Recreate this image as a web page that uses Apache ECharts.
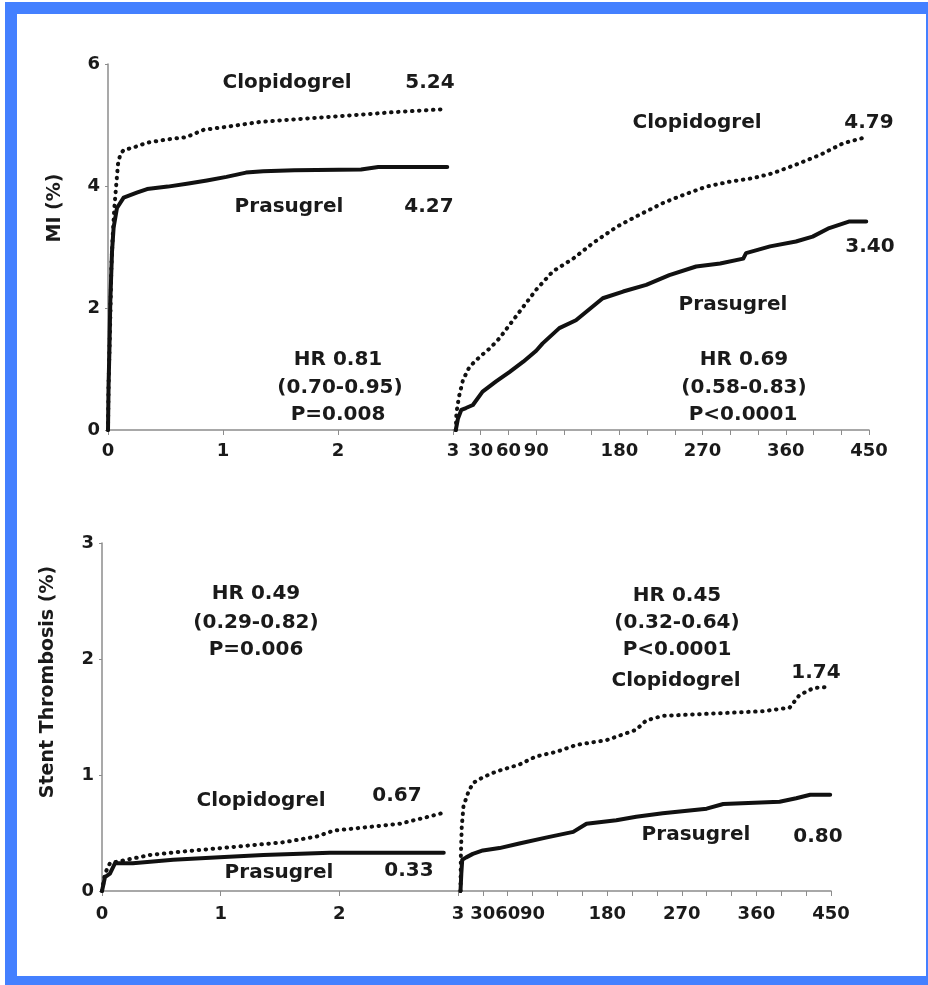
<!DOCTYPE html>
<html>
<head>
<meta charset="utf-8">
<script src="https://cdn.jsdelivr.net/npm/echarts@6/dist/echarts.min.js"></script>
<style>
  html, body { margin: 0; padding: 0; background: #fff; }
  .frame { position: absolute; left: 5px; top: 2px; width: 923px; height: 983px; background: #4480ff; }
  .inner { position: absolute; left: 17px; top: 14px; width: 909px; height: 962px; background: #fff; }
  #chart { position: absolute; left: 0; top: 0; width: 928px; height: 985px; }
</style>
</head>
<body>
<div class="frame"></div>
<div class="inner"></div>
<div id="chart"></div>
<script>
  // MI, days 0-3 : [day, %]
  const miEarlyClopidogrel = [[0, 0], [0.005, 0.74], [0.02, 1.84], [0.029, 2.66], [0.04, 3.15], [0.055, 3.64], [0.072, 4.03], [0.087, 4.36], [0.107, 4.52], [0.136, 4.59], [0.22, 4.63], [0.34, 4.71], [0.5, 4.76], [0.68, 4.8], [0.83, 4.92], [1.03, 4.97], [1.32, 5.05], [1.6, 5.09], [1.9, 5.13], [2.2, 5.17], [2.48, 5.21], [2.75, 5.24], [2.93, 5.26]]
  const miEarlyPrasugrel = [[0, 0], [0.005, 0.74], [0.012, 1.29], [0.02, 2.11], [0.035, 2.93], [0.049, 3.32], [0.078, 3.64], [0.136, 3.81], [0.25, 3.89], [0.34, 3.95], [0.52, 3.99], [0.7, 4.04], [0.86, 4.09], [1.03, 4.15], [1.2, 4.22], [1.35, 4.24], [1.62, 4.26], [2.2, 4.27], [2.35, 4.31], [2.95, 4.31]]
  // MI, days 3-450
  const miLateClopidogrel = [[3, 0], [3.7, 0.28], [6.5, 0.55], [10.8, 0.82], [18, 1.04], [29, 1.2], [40, 1.34], [50, 1.5], [68, 1.86], [90, 2.3], [108, 2.6], [130, 2.81], [151, 3.06], [177, 3.33], [198, 3.5], [227, 3.72], [245, 3.83], [274, 3.99], [299, 4.07], [325, 4.13], [346, 4.21], [371, 4.35], [397, 4.51], [422, 4.7], [444, 4.79]]
  const miLatePrasugrel = [[3, 0], [5.4, 0.19], [9, 0.33], [14, 0.36], [21.5, 0.41], [32, 0.63], [47, 0.8], [61, 0.95], [76, 1.12], [90, 1.3], [97, 1.42], [115, 1.67], [133, 1.8], [162, 2.16], [184, 2.27], [209, 2.38], [234, 2.54], [263, 2.68], [289, 2.73], [314, 2.81], [317, 2.9], [343, 3.01], [371, 3.09], [389, 3.17], [407, 3.31], [429, 3.42], [447, 3.42]]
  // Stent thrombosis, days 0-3
  const stEarlyClopidogrel = [[0, 0], [0.025, 0.15], [0.067, 0.24], [0.21, 0.27], [0.4, 0.31], [0.68, 0.34], [1.11, 0.38], [1.53, 0.42], [1.81, 0.47], [1.95, 0.52], [2.23, 0.55], [2.51, 0.58], [2.71, 0.63], [2.86, 0.67]]
  const stEarlyPrasugrel = [[0, 0], [0.025, 0.12], [0.067, 0.15], [0.11, 0.24], [0.26, 0.24], [0.6, 0.27], [0.99, 0.29], [1.36, 0.31], [1.92, 0.33], [2.88, 0.33]]
  // Stent thrombosis, days 3-450
  const stLateClopidogrel = [[3, 0], [3.5, 0.32], [4.5, 0.55], [6.6, 0.73], [11.8, 0.84], [17.9, 0.93], [30, 0.98], [46, 1.03], [74, 1.09], [94, 1.16], [119, 1.2], [143, 1.26], [179, 1.3], [215, 1.39], [227, 1.47], [247, 1.51], [308, 1.53], [368, 1.55], [400, 1.58], [412, 1.69], [429, 1.75], [449, 1.76]]
  const stLatePrasugrel = [[3, 0], [4, 0.15], [5.1, 0.27], [9.9, 0.29], [17.9, 0.32], [30, 0.35], [50, 0.37], [74, 0.41], [106, 0.46], [139, 0.51], [155, 0.58], [191, 0.61], [215, 0.64], [247, 0.67], [300, 0.71], [320, 0.75], [388, 0.77], [408, 0.8], [425, 0.83], [449, 0.83]]

  const lateTickLabels = [3, 30, 60, 90, 180, 270, 360, 450]

  // annotations: [text, x, y]
  const notes = [
    ['Clopidogrel', 287, 83], ['5.24', 430, 83], ['Prasugrel', 289, 207], ['4.27', 429, 207],
    ['HR 0.81', 338, 360], ['(0.70-0.95)', 340, 388], ['P=0.008', 338, 415],
    ['Clopidogrel', 697, 123], ['4.79', 869, 123], ['3.40', 870, 247], ['Prasugrel', 733, 305],
    ['HR 0.69', 744, 360], ['(0.58-0.83)', 744, 388], ['P<0.0001', 743, 415],
    ['HR 0.49', 256, 594], ['(0.29-0.82)', 256, 623], ['P=0.006', 256, 650],
    ['Clopidogrel', 261, 801], ['0.67', 397, 796], ['Prasugrel', 279, 873], ['0.33', 409, 871],
    ['HR 0.45', 677, 596], ['(0.32-0.64)', 677, 623], ['P<0.0001', 677, 650],
    ['Clopidogrel', 676, 681], ['1.74', 816, 673], ['Prasugrel', 696, 835], ['0.80', 818, 837]
  ]

  const FONT = '"DejaVu Sans", sans-serif'
  const axisGray = '#8c8c8c'
  const labelStyle = { color: '#1a1a1a', fontFamily: FONT, fontWeight: 'bold', fontSize: 18 }

  function xAxisEarly(gridIndex, margin) {
    return {
      gridIndex: gridIndex, type: 'value', min: 0, max: 3, interval: 1,
      axisLine: { lineStyle: { color: axisGray, width: 1.5 } },
      axisTick: { length: 5, lineStyle: { color: axisGray } },
      axisLabel: Object.assign({ margin: margin }, labelStyle),
      splitLine: { show: false }
    }
  }
  function xAxisLate(gridIndex, margin) {
    return {
      gridIndex: gridIndex, type: 'value', min: 0, max: 450, interval: 30,
      axisLine: { lineStyle: { color: axisGray, width: 1.5 } },
      axisTick: { length: 5, lineStyle: { color: axisGray } },
      axisLabel: Object.assign({
        margin: margin,
        customValues: lateTickLabels.slice(1)
      }, labelStyle),
      splitLine: { show: false }
    }
  }
  function yAxisShown(gridIndex, max, interval) {
    return {
      gridIndex: gridIndex, type: 'value', min: 0, max: max, interval: interval,
      axisLine: { show: true, lineStyle: { color: axisGray, width: 1.5 } },
      axisTick: { show: true, length: 3, lineStyle: { color: axisGray } },
      axisLabel: Object.assign({ margin: 8 }, labelStyle),
      splitLine: { show: false }
    }
  }
  function yAxisHidden(gridIndex, max) {
    return { gridIndex: gridIndex, type: 'value', min: 0, max: max, show: false, splitLine: { show: false } }
  }

  function curve(data, idx, dotted) {
    return {
      type: 'line', xAxisIndex: idx, yAxisIndex: idx, data: data,
      showSymbol: false, symbol: 'none', silent: true, animation: false,
      lineStyle: dotted
        ? { color: '#111', width: 4, type: [0.5, 6.5], cap: 'round' }
        : { color: '#111', width: 4, cap: 'round', join: 'round' }
    }
  }

  const graphics = notes.map(n => ({
    type: 'text', x: n[1], y: n[2], silent: true,
    style: { text: n[0], fill: '#1a1a1a', font: 'bold 20px ' + FONT, align: 'center', verticalAlign: 'middle' }
  }))
  graphics.push({
    type: 'text', x: 55, y: 208, rotation: Math.PI / 2, silent: true,
    style: { text: 'MI (%)', fill: '#1a1a1a', font: 'bold 19px ' + FONT, align: 'center', verticalAlign: 'middle' }
  })
  graphics.push({
    type: 'text', x: 48, y: 682, rotation: Math.PI / 2, silent: true,
    style: { text: 'Stent Thrombosis (%)', fill: '#1a1a1a', font: 'bold 19px ' + FONT, align: 'center', verticalAlign: 'middle' }
  })

  const chart = echarts.init(document.getElementById('chart'), null, { renderer: 'canvas' })
  chart.setOption({
    animation: false,
    backgroundColor: 'transparent',
    grid: [
      { left: 108, top: 64, width: 345, height: 366 },
      { left: 453, top: 64, width: 416, height: 366 },
      { left: 102, top: 543, width: 356, height: 348 },
      { left: 458, top: 543, width: 373, height: 348 }
    ],
    xAxis: [xAxisEarly(0, 12), xAxisLate(1, 12), xAxisEarly(2, 14), xAxisLate(3, 14)],
    yAxis: [yAxisShown(0, 6, 2), yAxisHidden(1, 6), yAxisShown(2, 3, 1), yAxisHidden(3, 3)],
    series: [
      curve(miEarlyClopidogrel, 0, true), curve(miEarlyPrasugrel, 0, false),
      curve(miLateClopidogrel, 1, true), curve(miLatePrasugrel, 1, false),
      curve(stEarlyClopidogrel, 2, true), curve(stEarlyPrasugrel, 2, false),
      curve(stLateClopidogrel, 3, true), curve(stLatePrasugrel, 3, false)
    ],
    graphic: graphics
  })
</script>
</body>
</html>
